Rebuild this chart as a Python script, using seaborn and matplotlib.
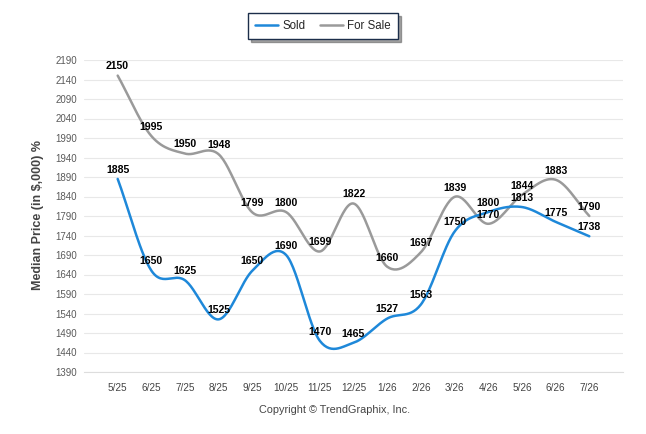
import numpy as np
import pandas as pd
import matplotlib
matplotlib.use("Agg")
import matplotlib.pyplot as plt
from matplotlib.lines import Line2D
import seaborn as sns

#################################################################################################
#   Data
#################################################################################################
months = ["5/25", "6/25", "7/25", "8/25", "9/25", "10/25", "11/25", "12/25",
          "1/26", "2/26", "3/26", "4/26", "5/26", "6/26", "7/26"]
sold = [1885, 1650, 1625, 1525, 1650, 1690, 1470, 1465, 1527, 1563, 1750, 1800, 1813, 1775, 1738]
for_sale = [2150, 1995, 1950, 1948, 1799, 1800, 1699, 1822, 1660, 1697, 1839, 1770, 1844, 1883, 1790]
y_ticks = list(range(1390, 2191, 50))

SOLD_COLOR = "#1e88d9"
SALE_COLOR = "#9a9a9a"


def spline_curve(ys, steps=30):
    # catmull-rom curve through the points (x = 0..n-1)
    ys = np.asarray(ys, dtype=float)
    n = len(ys)
    m = np.zeros(n)
    m[1:-1] = (ys[2:] - ys[:-2]) / 2
    m[0] = ys[1] - ys[0]
    m[-1] = ys[-1] - ys[-2]
    out_x, out_y = [0.0], [ys[0]]
    t = np.linspace(0, 1, steps)[1:]
    h00 = 2 * t ** 3 - 3 * t ** 2 + 1
    h10 = t ** 3 - 2 * t ** 2 + t
    h01 = -2 * t ** 3 + 3 * t ** 2
    h11 = t ** 3 - t ** 2
    for i in range(n - 1):
        seg = h00 * ys[i] + h10 * m[i] + h01 * ys[i + 1] + h11 * m[i + 1]
        out_x.extend(i + t)
        out_y.extend(seg)
    return np.array(out_x), np.array(out_y)


#################################################################################################
#   Plot
#################################################################################################
sns.set_style("white")
plt.rcParams["font.family"] = ["Liberation Sans", "DejaVu Sans"]

fig = plt.figure(figsize=(6.46, 4.34), dpi=100)
ax = fig.add_axes([84 / 646, 62 / 434, 539 / 646, 312 / 434])

curves = []
for name, vals in [("For Sale", for_sale), ("Sold", sold)]:
    cx, cy = spline_curve(vals)
    curves.append(pd.DataFrame({"x": cx, "y": cy, "series": name}))
df = pd.concat(curves, ignore_index=True)

sns.lineplot(data=df, x="x", y="y", hue="series", sort=False, estimator=None,
             palette={"Sold": SOLD_COLOR, "For Sale": SALE_COLOR},
             linewidth=1.8, legend=False, ax=ax)

# data labels
for name, vals in [("Sold", sold), ("For Sale", for_sale)]:
    for i, v in enumerate(vals):
        ax.annotate(str(v), (i, v), xytext=(0, 3), textcoords="offset points",
                    ha="center", va="bottom", fontsize=7.6, fontweight="bold", color="black")

ax.set_xlim(-1, 15)
ax.set_ylim(1390, 2190)
ax.set_yticks(y_ticks)
ax.set_yticklabels([str(v) for v in y_ticks])
ax.set_xticks(list(range(-1, 16)))
ax.set_xticklabels([""] + months + [""])
ax.grid(axis="y", color="#e8e8e8", linewidth=0.8)
ax.grid(axis="x", visible=False)
for s in ["left", "right", "top"]:
    ax.spines[s].set_visible(False)
ax.spines["bottom"].set_color("#dddddd")
ax.tick_params(axis="y", length=0, labelsize=7, labelcolor="#5a5a5a", pad=5)
ax.tick_params(axis="x", length=4, width=0.8, color="#dddddd", labelsize=7.2, labelcolor="#444444", pad=4)
ax.set_xlabel("")
ax.set_ylabel("")

fig.text(38 / 646, 1 - 215 / 434, "Median Price (in $,000) %", rotation=90, ha="center", va="center",
         fontsize=9, fontweight="bold", color="#444444")
fig.text(335 / 646, 1 - 410 / 434, "Copyright \u00a9 TrendGraphix, Inc.", ha="center", va="center",
         fontsize=7.8, color="#444444")

handles = [Line2D([], [], color=SOLD_COLOR, linewidth=1.8),
           Line2D([], [], color=SALE_COLOR, linewidth=1.8)]
leg = fig.legend(handles, ["Sold", "For Sale"], loc="center", bbox_to_anchor=(323 / 646, 1 - 26 / 434),
                 ncol=2, frameon=True, fancybox=False, shadow=True, fontsize=8.3,
                 handlelength=2.0, handletextpad=0.4, columnspacing=1.2, borderpad=0.6)
leg.get_frame().set_edgecolor("#1c2e4a")
leg.get_frame().set_linewidth(1.0)

fig.savefig("out.png", dpi=100)
